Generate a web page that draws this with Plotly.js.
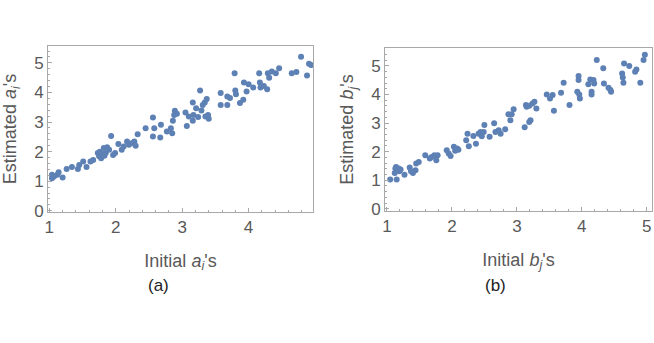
<!DOCTYPE html>
<html>
<head>
<meta charset="utf-8">
<script src="https://cdn.plot.ly/plotly-3.0.1.min.js"></script>
<style>
  html, body { margin: 0; padding: 0; background: #fff; }
  #chart { width: 654px; height: 343px; }
</style>
</head>
<body>
<div id="chart"></div>
<script>
// panel (a): initial vs estimated a_i
const aInitial = [
  1.04, 1.04, 1.07, 1.12, 1.14, 1.20, 1.26, 1.34, 1.43, 1.45, 1.51, 1.56, 1.62, 1.66,
  1.73, 1.75, 1.76, 1.77, 1.78, 1.80, 1.82, 1.83, 1.85, 1.87, 1.90, 1.93, 1.96, 1.99,
  2.04, 2.09, 2.12, 2.17, 2.20, 2.25, 2.28, 2.30, 2.33, 2.45, 2.56, 2.56, 2.58, 2.67,
  2.68, 2.77, 2.83, 2.85, 2.86, 2.88, 2.89, 2.92, 3.05, 3.07, 3.10, 3.16, 3.16, 3.17,
  3.21, 3.24, 3.27, 3.29, 3.31, 3.34, 3.35, 3.37, 3.39, 3.40, 3.58, 3.58, 3.68, 3.68,
  3.72, 3.79, 3.80, 3.81, 3.87, 3.92, 3.93, 3.97, 4.00, 4.07, 4.16, 4.17, 4.18, 4.23,
  4.28, 4.29, 4.31, 4.35, 4.41, 4.46, 4.65, 4.72, 4.79, 4.88, 4.91, 4.94
];
const aEstimated = [
  1.22, 1.10, 1.16, 1.22, 1.30, 1.13, 1.41, 1.48, 1.41, 1.55, 1.67, 1.48, 1.67, 1.72,
  1.95, 1.84, 2.00, 1.89, 1.78, 1.92, 2.12, 1.86, 1.95, 2.15, 2.06, 2.53, 1.89, 1.95,
  2.26, 2.06, 2.17, 2.34, 2.23, 2.29, 2.34, 2.20, 2.59, 2.79, 3.15, 2.51, 2.79, 2.48,
  2.91, 2.68, 2.79, 2.62, 3.04, 3.24, 3.38, 3.28, 3.32, 2.87, 3.19, 3.66, 3.04, 3.24,
  3.47, 3.17, 4.07, 3.39, 3.58, 3.66, 3.19, 3.78, 3.24, 3.11, 3.98, 3.58, 3.58, 3.86,
  3.81, 4.65, 4.07, 3.94, 3.64, 3.75, 4.34, 4.03, 4.28, 4.17, 4.65, 4.34, 4.17, 4.22,
  4.11, 4.65, 4.50, 4.71, 4.65, 4.82, 4.65, 4.69, 5.21, 4.57, 4.97, 4.93
];

// panel (b): initial vs estimated b_j
const bInitial = [
  1.05, 1.15, 1.12, 1.13, 1.14, 1.15, 1.18, 1.19, 1.21, 1.27, 1.35, 1.37, 1.40, 1.44,
  1.45, 1.49, 1.59, 1.66, 1.69, 1.73, 1.76, 1.78, 1.92, 1.95, 1.98, 2.03, 2.05, 2.08,
  2.10, 2.22, 2.24, 2.26, 2.33, 2.37, 2.41, 2.44, 2.46, 2.49, 2.50, 2.58, 2.65, 2.67,
  2.72, 2.75, 2.82, 2.87, 2.90, 2.92, 2.95, 3.12, 3.14, 3.15, 3.19, 3.21, 3.19, 3.24,
  3.27, 3.30, 3.46, 3.51, 3.55, 3.57, 3.68, 3.72, 3.81, 3.93, 3.95, 3.95, 3.96, 3.97,
  4.10, 4.13, 4.15, 4.15, 4.18, 4.19, 4.23, 4.33, 4.34, 4.41, 4.44, 4.45, 4.62, 4.63,
  4.64, 4.65, 4.73, 4.82, 4.84, 4.90, 4.95, 4.97
];
const bEstimated = [
  1.02, 1.02, 1.25, 1.41, 1.46, 1.35, 1.41, 1.31, 1.37, 1.19, 1.44, 1.31, 1.25, 1.35,
  1.58, 1.64, 1.87, 1.76, 1.81, 1.87, 1.70, 1.87, 2.05, 1.93, 1.85, 2.17, 2.03, 2.11,
  2.07, 2.40, 2.63, 2.19, 2.55, 2.28, 2.63, 2.69, 2.54, 2.69, 2.93, 2.52, 2.99, 2.69,
  2.75, 2.63, 2.78, 3.31, 3.10, 3.31, 3.48, 2.85, 3.63, 3.57, 3.04, 3.10, 3.61, 3.69,
  3.75, 3.51, 4.00, 3.86, 3.98, 3.43, 4.06, 4.41, 3.63, 4.10, 4.65, 4.51, 4.00, 3.86,
  4.36, 4.53, 4.10, 4.00, 4.51, 4.39, 5.21, 4.92, 4.39, 4.24, 4.16, 4.10, 4.74, 4.60,
  4.41, 5.09, 5.00, 4.80, 4.88, 4.41, 5.21, 5.39
];

const dotColor = '#5e81b5';
const frameColor = '#a8a8a8';
const textColor = '#595959';
const fontFamily = 'Liberation Sans, Arial, sans-serif';

function axisStyle(extra) {
  return Object.assign({
    showgrid: false,
    zeroline: false,
    showline: true,
    mirror: true,
    linecolor: frameColor,
    linewidth: 1,
    ticks: 'inside',
    ticklen: 4,
    tickwidth: 1,
    tickcolor: frameColor,
    tick0: 0,
    dtick: 1,
    minor: {ticks: 'inside', ticklen: 2, dtick: 0.2, tickcolor: frameColor},
    tickfont: {size: 17, color: textColor},
    automargin: false,
    fixedrange: true
  }, extra);
}

const data = [{
  x: aInitial,
  y: aEstimated,
  xaxis: 'x',
  yaxis: 'y',
  type: 'scatter',
  mode: 'markers',
  marker: {color: dotColor, size: 6},
  hoverinfo: 'skip'
}, {
  x: bInitial,
  y: bEstimated,
  xaxis: 'x2',
  yaxis: 'y2',
  type: 'scatter',
  mode: 'markers',
  marker: {color: dotColor, size: 6},
  hoverinfo: 'skip'
}];

const titleFont = {size: 18, color: textColor};

const layout = {
  width: 654,
  height: 343,
  margin: {l: 0, r: 0, t: 0, b: 0},
  paper_bgcolor: '#fff',
  plot_bgcolor: '#fff',
  showlegend: false,
  font: {family: fontFamily, color: textColor},
  xaxis: axisStyle({
    domain: [48 / 654, 313 / 654],
    range: [0.98, 4.97],
    anchor: 'y',
    title: {text: 'Initial <i>a<sub>i</sub></i>\'s', font: titleFont, standoff: 17}
  }),
  yaxis: axisStyle({
    domain: [1 - 212 / 343, 1 - 46 / 343],
    range: [-0.04, 5.57],
    anchor: 'x',
    title: {text: 'Estimated <i>a<sub>i</sub></i>\'s', font: titleFont, standoff: 12}
  }),
  xaxis2: axisStyle({
    domain: [385 / 654, 652 / 654],
    range: [0.97, 5.08],
    anchor: 'y2',
    title: {text: 'Initial <i>b<sub>j</sub></i>\'s', font: titleFont, standoff: 17}
  }),
  yaxis2: axisStyle({
    domain: [1 - 211 / 343, 1 - 48 / 343],
    range: [-0.08, 5.63],
    anchor: 'x2',
    title: {text: 'Estimated <i>b<sub>j</sub></i>\'s', font: titleFont, standoff: 12}
  }),
  annotations: [{
    text: '(a)',
    x: 158 / 654,
    y: 1 - 285 / 343,
    xref: 'paper',
    yref: 'paper',
    xanchor: 'center',
    yanchor: 'middle',
    showarrow: false,
    font: {size: 17, color: '#222'}
  }, {
    text: '(b)',
    x: 495 / 654,
    y: 1 - 285 / 343,
    xref: 'paper',
    yref: 'paper',
    xanchor: 'center',
    yanchor: 'middle',
    showarrow: false,
    font: {size: 17, color: '#222'}
  }]
};

Plotly.newPlot('chart', data, layout, {staticPlot: true, displayModeBar: false});
</script>
</body>
</html>
